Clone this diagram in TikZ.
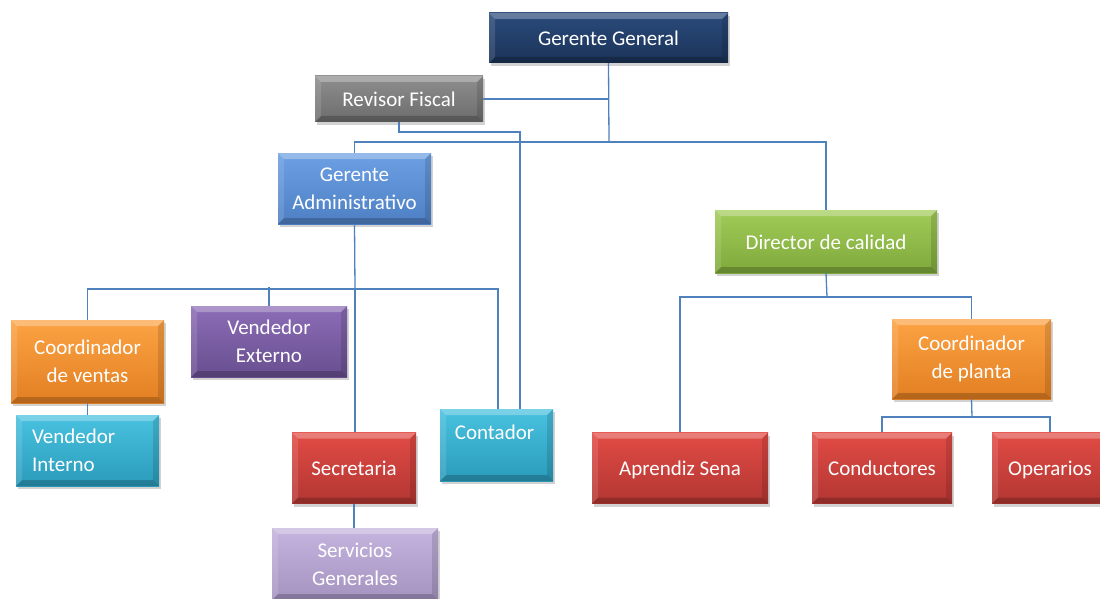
\documentclass[tikz,border=0pt]{standalone}
\usepackage{fontspec}
\setmainfont{Carlito}
\usetikzlibrary{shadows,calc}
\definecolor{conncol}{HTML}{4F81BD}
\definecolor{navyT}{HTML}{2B4B7C}\definecolor{navyB}{HTML}{1A3257}
\definecolor{grayT}{HTML}{8E8E8E}\definecolor{grayB}{HTML}{6C6C6C}
\definecolor{blueT}{HTML}{6CA0E3}\definecolor{blueB}{HTML}{4E7FC4}
\definecolor{greenT}{HTML}{A2CC58}\definecolor{greenB}{HTML}{7EA83B}
\definecolor{orangeT}{HTML}{FCA344}\definecolor{orangeB}{HTML}{E27F22}
\definecolor{purpleT}{HTML}{8C6DB6}\definecolor{purpleB}{HTML}{684E90}
\definecolor{cyanT}{HTML}{48C2E0}\definecolor{cyanB}{HTML}{2B9BBA}
\definecolor{redT}{HTML}{E24B45}\definecolor{redB}{HTML}{B23632}
\definecolor{lavT}{HTML}{C4B4DE}\definecolor{lavB}{HTML}{A593C0}
\tikzset{
  orgbox/.style={rectangle, inner sep=0pt, text=white, align=center,
    font=\fontsize{21}{28}\selectfont,
    drop shadow={opacity=.35, shadow xshift=2pt, shadow yshift=-3pt},
    path picture={
      \fill[white,opacity=.28] (path picture bounding box.north west) -- (path picture bounding box.north east)
        -- ([xshift=-6pt,yshift=-6pt]path picture bounding box.north east) -- ([xshift=6pt,yshift=-6pt]path picture bounding box.north west) -- cycle;
      \fill[black,opacity=.2] (path picture bounding box.south west) -- (path picture bounding box.south east)
        -- ([xshift=-6pt,yshift=6pt]path picture bounding box.south east) -- ([xshift=6pt,yshift=6pt]path picture bounding box.south west) -- cycle;
      \fill[white,opacity=.12] (path picture bounding box.north west) -- ([xshift=6pt,yshift=-6pt]path picture bounding box.north west)
        -- ([xshift=6pt,yshift=6pt]path picture bounding box.south west) -- (path picture bounding box.south west) -- cycle;
      \fill[black,opacity=.12] (path picture bounding box.north east) -- ([xshift=-6pt,yshift=-6pt]path picture bounding box.north east)
        -- ([xshift=-6pt,yshift=6pt]path picture bounding box.south east) -- (path picture bounding box.south east) -- cycle;
    }},
  oneline/.style={text height=16pt, text depth=1pt},
  navybox/.style={orgbox, top color=navyT, bottom color=navyB},
  graybox/.style={orgbox, top color=grayT, bottom color=grayB},
  bluebox/.style={orgbox, top color=blueT, bottom color=blueB},
  greenbox/.style={orgbox, top color=greenT, bottom color=greenB},
  orangebox/.style={orgbox, top color=orangeT, bottom color=orangeB},
  purplebox/.style={orgbox, top color=purpleT, bottom color=purpleB},
  cyanbox/.style={orgbox, top color=cyanT, bottom color=cyanB},
  redbox/.style={orgbox, top color=redT, bottom color=redB},
  lavbox/.style={orgbox, top color=lavT, bottom color=lavB},
  conn/.style={draw=conncol, line width=1.3pt},
  lbl/.style={text=white, inner sep=0pt, font=\fontsize{21}{28}\selectfont}
}
\begin{document}
\begin{tikzpicture}[x=1pt,y=-1pt]
\fill[white] (0,0) rectangle (1100,599);
\useasboundingbox (0,0) rectangle (1100,599);

% junction coordinates
\coordinate (j1) at (609,142);
\coordinate (rfc) at (520,132);
\coordinate (h2) at (355,289);
\coordinate (h3) at (827,297);
\coordinate (h4) at (972,417);

% boxes
\node[navybox, oneline, minimum width=239pt, minimum height=50pt] (gg) at (608.5,38) {Gerente General};
\node[graybox, oneline, minimum width=168pt, minimum height=46pt] (rf) at (399,99) {Revisor Fiscal};
\node[bluebox, minimum width=153pt, minimum height=71pt] (ga) at (354.5,188.5) {Gerente\\Administrativo};
\node[greenbox, oneline, minimum width=222pt, minimum height=63pt] (dc) at (826,241.5) {Director de calidad};
\node[orangebox, minimum width=153pt, minimum height=83pt] (cv) at (87.5,361.5) {Coordinador\\de ventas};
\node[purplebox, minimum width=156pt, minimum height=71pt] (ve) at (269,341.5) {Vendedor\\Externo};
\node[cyanbox, minimum width=143pt, minimum height=71pt, text width=111pt, align=left] (vi) at (87.5,450.5) {Vendedor\\Interno};
\node[redbox, oneline, minimum width=124pt, minimum height=71pt] (sec) at (354,468) {Secretaria};
\node[lavbox, minimum width=166pt, minimum height=72pt] (sg) at (355,564) {Servicios\\Generales};
\node[cyanbox, minimum width=113pt, minimum height=72pt] (cont) at (496.5,445) {};
\node[lbl] (contT) at ($(cont.north)+(-2,23)$) {Contador};
\node[redbox, oneline, minimum width=176pt, minimum height=71pt] (as) at (680,468) {Aprendiz Sena};
\node[redbox, oneline, minimum width=140pt, minimum height=71pt] (cond) at (882,468) {Conductores};
\node[redbox, oneline, minimum width=116pt, minimum height=71pt] (op) at (1050,468) {Operarios};
\node[orangebox, minimum width=159pt, minimum height=80pt] (cp) at (971.5,359) {Coordinador\\de planta};

% connectors
\draw[conn] (gg.south) -- (j1);
\draw[conn] (rf.east) -- (rf.east -| gg.south);
\draw[conn] (ga.north) |- (j1) -| (dc.north);
\draw[conn] (rf.south) |- (rfc) -- (rfc |- cont.north);
\draw[conn] (ga.south) -- (h2);
\draw[conn] (cv.north) |- (h2) -| ([xshift=1.5pt]cont.north);
\draw[conn] (ve.north) -- ([yshift=2pt]ve.north |- h2);
\draw[conn] (h2) -- (h2 |- sec.north);
\draw[conn] (cv.south) -- (vi.north);
\draw[conn] (sec.south) -- (sec.south |- sg.north);
\draw[conn] (dc.south) -- (h3);
\draw[conn] (as.north) |- (h3) -| (cp.north);
\draw[conn] (cp.south) -- (h4);
\draw[conn] (cond.north) |- (h4) -| (op.north);
\end{tikzpicture}
\end{document}
